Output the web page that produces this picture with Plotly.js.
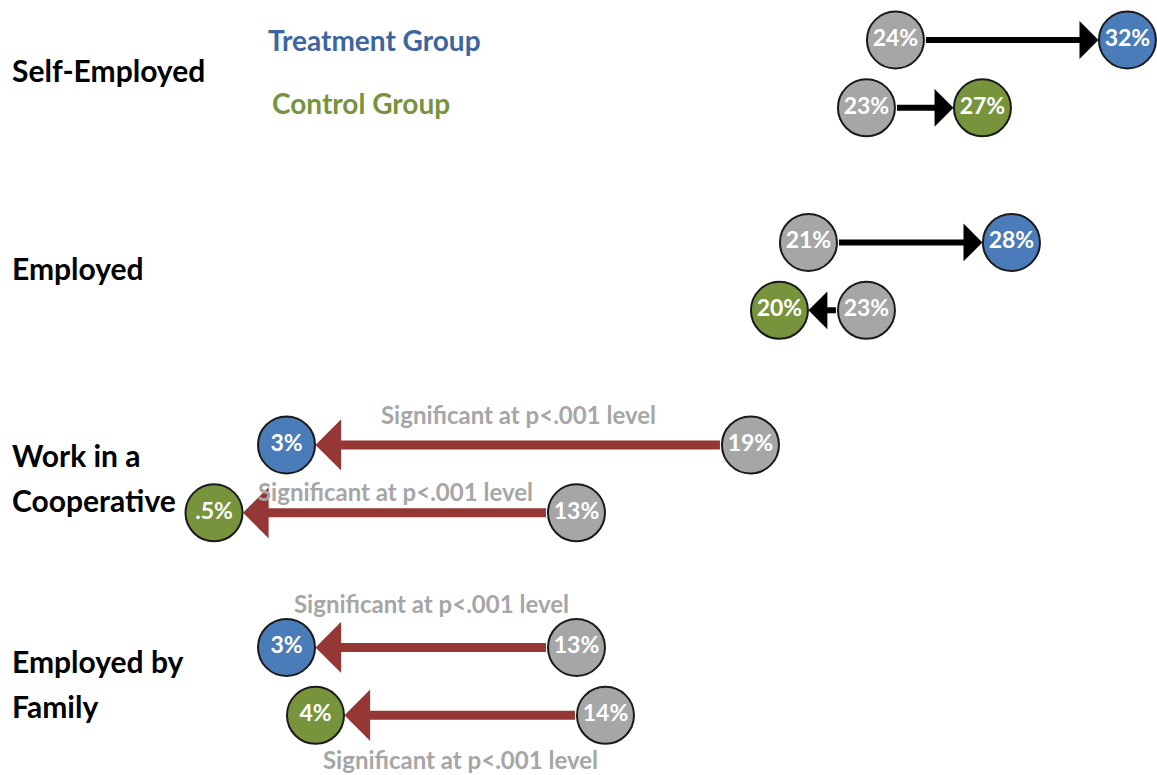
<!DOCTYPE html>
<html>
<head>
<meta charset="utf-8">
<script src="https://cdn.plot.ly/plotly-3.0.1.min.js"></script>
<style>
html, body { margin: 0; padding: 0; background: #ffffff; }
#chart { width: 1157px; height: 775px; }
</style>
</head>
<body>
<div id="chart"></div>
<script>
// ---------------- data ----------------
const categories = ["Self-Employed", "Employed", "Work in a<br>Cooperative", "Employed by<br>Family"];
const treatmentBefore = [24, 21, 19, 13];
const treatmentAfter  = [32, 28, 3, 3];
const controlBefore   = [23, 23, 13, 14];
const controlAfter    = [27, 20, 0.5, 4];
const treatmentBeforeLabels = ["24%", "21%", "19%", "13%"];
const treatmentAfterLabels  = ["32%", "28%", "3%", "3%"];
const controlBeforeLabels   = ["23%", "23%", "13%", "14%"];
const controlAfterLabels    = ["27%", "20%", ".5%", "4%"];
const significant = [false, false, true, true];
const seriesNames = ["Treatment Group", "Control Group"];
const sigText = "Significant at p<.001 level";

// ---------------- style ----------------
const FONT = "Lato, 'Open Sans', sans-serif";
const GREY = "#A6A6A6";
const BLUE = "#4A7CB9";
const GREEN = "#77933C";
const LEG_BLUE = "#3D66A0";
const RED = "#953735";
const PAIR_OFFSET = 0.335;   // row offset of control within a group
const R = 29;                // circle radius in px

const n = categories.length;
const yT = categories.map((_, g) => g);
const yC = categories.map((_, g) => g + PAIR_OFFSET);

const circleTrace = (xs, ys, labels, color) => ({
  type: "scatter", mode: "markers+text",
  x: xs, y: ys, text: labels,
  textposition: "middle center",
  textfont: { family: FONT, size: 23, color: "#ffffff", weight: 700 },
  marker: { size: 2 * R - 1, color: color, line: { color: "#1a1a1a", width: 2 } },
  cliponaxis: false, hoverinfo: "skip", showlegend: false
});

const traces = [
  circleTrace(treatmentBefore.concat(controlBefore), yT.concat(yC),
              treatmentBeforeLabels.concat(controlBeforeLabels), GREY),
  circleTrace(treatmentAfter, yT, treatmentAfterLabels, BLUE),
  circleTrace(controlAfter, yC, controlAfterLabels, GREEN)
];

const annotations = [];

// arrows
function addArrow(from, to, y, sig) {
  annotations.push({
    x: to, y: y, ax: from, ay: y,
    xref: "x", yref: "y", axref: "x", ayref: "y",
    text: "", showarrow: true,
    arrowhead: 1,
    arrowsize: sig ? 0.95 : 1.05,
    arrowwidth: sig ? 9 : 6,
    arrowcolor: sig ? RED : "#000000",
    standoff: R, startstandoff: R
  });
}
for (let g = 0; g < n; g++) {
  addArrow(treatmentBefore[g], treatmentAfter[g], yT[g], significant[g]);
  addArrow(controlBefore[g], controlAfter[g], yC[g], significant[g]);
}

// significance notes (pixel shift from the arrow; negative = below)
const sigShift = { 2: [30, 21], 3: [44, -44] };
for (let g = 0; g < n; g++) {
  if (!significant[g]) continue;
  [[treatmentBefore[g], treatmentAfter[g], yT[g]], [controlBefore[g], controlAfter[g], yC[g]]]
    .forEach(([a, b, y], s) => {
      annotations.push({
        x: (a + b) / 2, y: y, xref: "x", yref: "y",
        text: sigText, showarrow: false,
        xanchor: "center", yanchor: "middle",
        yshift: sigShift[g][s],
        font: { family: FONT, size: 24, color: GREY, weight: 700 }
      });
    });
}

// category labels (each line separately for Office-like line spacing)
const labelShift = [30, 26, 33, 36]; // px from treatment row down to label centre
categories.forEach((c, g) => {
  const lines = c.split("<br>");
  lines.forEach((line, i) => {
    annotations.push({
      x: 0, xref: "paper", y: yT[g], yref: "y",
      xanchor: "left", yanchor: "middle", xshift: 10,
      yshift: -(labelShift[g] + (i - (lines.length - 1) / 2) * 45),
      text: line, showarrow: false,
      font: { family: FONT, size: 30, color: "#000000", weight: 700 }
    });
  });
});

// group legend text
annotations.push({
  x: 268 / 1157, xref: "paper", y: yT[0], yref: "y", xanchor: "left", yanchor: "middle",
  xshift: -2, yshift: 0, text: seriesNames[0], showarrow: false,
  font: { family: FONT, size: 28, color: LEG_BLUE, weight: 700 }
});
annotations.push({
  x: 272 / 1157, xref: "paper", y: yC[0], yref: "y", xanchor: "left", yanchor: "middle",
  xshift: -2, yshift: 5, text: seriesNames[1], showarrow: false,
  font: { family: FONT, size: 28, color: GREEN, weight: 700 }
});

const layout = {
  width: 1157, height: 775,
  margin: { l: 0, r: 0, t: 0, b: 0, pad: 0 },
  paper_bgcolor: "#ffffff", plot_bgcolor: "#ffffff",
  showlegend: false,
  xaxis: { range: [-6.88, 33.02], visible: false, fixedrange: true },
  yaxis: { range: [3.63, -0.1975], visible: false, fixedrange: true },
  annotations: annotations
};

Plotly.newPlot("chart", traces, layout, { displayModeBar: false, staticPlot: true });
</script>
</body>
</html>
